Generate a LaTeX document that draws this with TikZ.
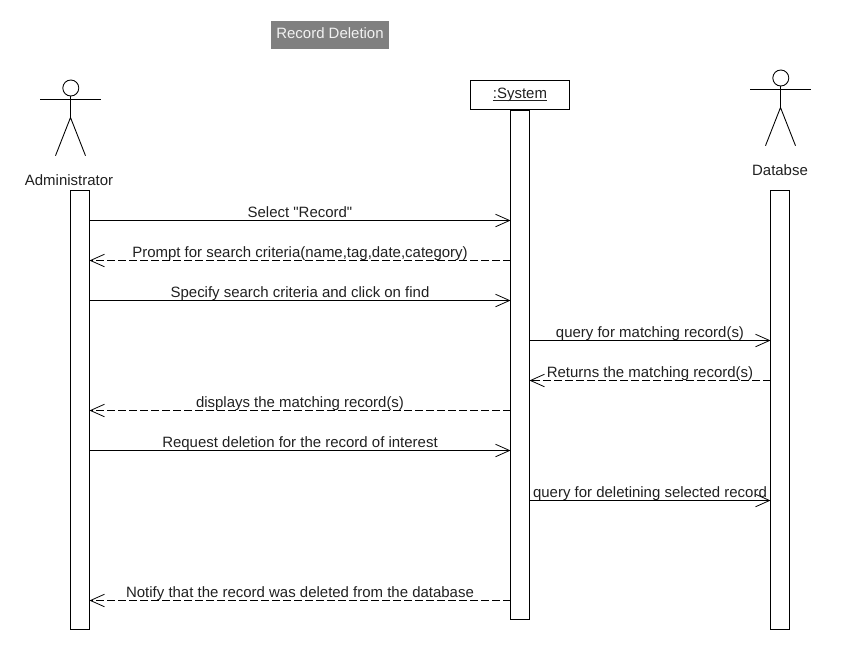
\documentclass[tikz,border=0pt]{standalone}
\usepackage{fontspec}
\newfontfamily\umlfont{Liberation Sans}
\usepackage{xcolor}
\usetikzlibrary{arrows.meta, positioning}

\definecolor{titlegray}{HTML}{808080}
\definecolor{textgray}{HTML}{202020}

\newcommand{\lowline}[1]{\setbox0\hbox{#1}\rlap{\rule[-1.3pt]{\wd0}{0.5pt}}\box0}

\tikzset{
    labeltext/.style={font=\umlfont\fontsize{8.52}{9}\selectfont, text=textgray},
    bar/.style={draw=black, fill=white, line width=0.57pt, minimum width=0.38cm, inner sep=0pt, outer sep=0pt},
    msg/.style={line width=0.57pt, -{Straight Barb[length=0.28cm, width=0.25cm, line width=0.45pt]}},
    reply/.style={msg, dash pattern=on 0.15cm off 0.07cm},
    msgtext/.style={labeltext, anchor=base, inner sep=0pt, yshift=0.06cm},
    limb/.style={line width=0.5pt}
}

\begin{document}
\begin{tikzpicture}[x=0.02cm, y=-0.02cm]

    \useasboundingbox (0,0) rectangle (850,650);

    % 1. title
    \node[labeltext, fill=titlegray, text=white!90!gray, minimum width=2.36cm, minimum height=0.56cm, text depth=2.27pt, inner sep=0pt] (title) at (330,35) {Record Deletion};

    % 2. actors
    \foreach \ax/\ay in {70.5/88, 780.5/78} {
        \draw[limb] (\ax+0.3,\ay) circle[radius=8];
        \draw[limb] (\ax,\ay+8) -- (\ax,\ay+29.5);
        \draw[limb] (\ax-30.5,\ay+11.5) -- (\ax+30.5,\ay+11.5);
        \draw[limb] (\ax-15,\ay+67.7) -- (\ax,\ay+29.5) -- (\ax+15,\ay+67.7);
    }
    \node[labeltext] (adminname) at (69,180) {Administrator};
    \node[labeltext] (dbname) at (780,170) {Databse};

    % 3. system box and bars
    \node[labeltext, draw=black, line width=0.57pt, minimum width=1.98cm, minimum height=0.58cm, inner sep=0pt] (sysbox) at (520,95) {\lowline{:System}};
    \node[bar, minimum height=8.78cm] (admin) at (80,410) {};
    \node[bar, minimum height=10.18cm] (sys) at (520,365) {};
    \node[bar, minimum height=8.78cm] (dbase) at (780,410) {};

    % 4. message rows
    \coordinate (m1) at (0,220.5);
    \coordinate (m2) at (0,260.5);
    \coordinate (m3) at (0,300.5);
    \coordinate (m4) at (0,340.5);
    \coordinate (m5) at (0,380.5);
    \coordinate (m6) at (0,410.5);
    \coordinate (m7) at (0,450.5);
    \coordinate (m8) at (0,500.5);
    \coordinate (m9) at (0,600.5);

    % 5. messages
    \draw[msg] (admin.east |- m1) -- node[msgtext] {Select "Record"} (sys.west |- m1);
    \draw[reply] (sys.west |- m2) -- node[msgtext] {Prompt for search criteria(name,tag,date,category)} (admin.east |- m2);
    \draw[msg] (admin.east |- m3) -- node[msgtext] {Specify search criteria and click on find} (sys.west |- m3);
    \draw[msg] (sys.east |- m4) -- node[msgtext] {query for matching record(s)} (dbase.west |- m4);
    \draw[reply] (dbase.west |- m5) -- node[msgtext] {Returns the matching record(s)} (sys.east |- m5);
    \draw[reply] (sys.west |- m6) -- node[msgtext] {displays the matching record(s)} (admin.east |- m6);
    \draw[msg] (admin.east |- m7) -- node[msgtext] {Request deletion for the record of interest} (sys.west |- m7);
    \draw[msg] (sys.east |- m8) -- node[msgtext] {query for deletining selected record} (dbase.west |- m8);
    \draw[reply] (sys.west |- m9) -- node[msgtext] {Notify that the record was deleted from the database} (admin.east |- m9);

\end{tikzpicture}
\end{document}
